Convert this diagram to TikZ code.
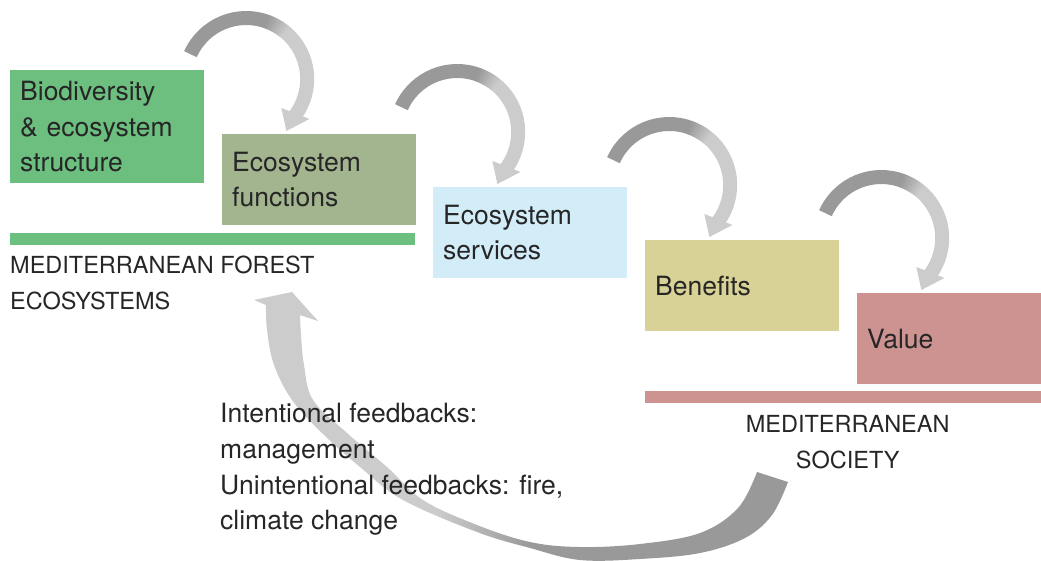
\documentclass[tikz,border=0pt]{standalone}
\usepackage{fontspec}
\setmainfont{TeX Gyre Heros}
\usetikzlibrary{positioning}
\usetikzlibrary{calc}

\definecolor{forestgreen}{HTML}{6DBF80}
\definecolor{functiongreen}{HTML}{A3B58F}
\definecolor{serviceblue}{HTML}{D2ECF8}
\definecolor{benefityellow}{HTML}{D8D296}
\definecolor{valuered}{HTML}{CD9391}
\definecolor{arrowdark}{HTML}{999999}
\definecolor{arrowlight}{HTML}{CCCCCC}
\pgfdeclarehorizontalshading{feedback}{100bp}{color(0bp)=(arrowlight); color(42bp)=(arrowlight); color(51bp)=(arrowdark); color(100bp)=(arrowdark)}

\begin{document}
\begin{tikzpicture}[x=1pt, y=-1pt]

\tikzstyle{stage}=[anchor=north west, align=left, text width=174pt, inner xsep=10pt,
inner ysep=0pt, minimum height=91pt, text=black!85, font={\fontsize{26.5}{35.5}\selectfont}]
\tikzstyle{bar}=[anchor=north west, minimum width=405pt, minimum height=12pt, inner sep=0pt]
\tikzstyle{caption}=[inner sep=0pt, text=black!85, font={\fontsize{23.5}{36}\selectfont}]
\tikzstyle{note}=[inner sep=0pt, text=black!85, font={\fontsize{26.5}{35.7}\selectfont}]
\tikzstyle{looparc}=[line width=14pt]

\useasboundingbox (0,0) rectangle (1041,560);

% feedback from society back to the forest
\shade[shading=feedback] plot[smooth, tension=0.6] coordinates {(788,482) (772,515) (745,538)
(700,553) (640,559) (580,560) (530,548) (477,532) (403,500) (360,467) (322,433) (292,400)
(274,365) (267,330) (266,305)}
-- (254,300) -- (292,292) -- (318,321) -- (300,315)
-- plot[smooth, tension=0.6] coordinates {(300,315) (301,335) (304,365) (313,400) (347,433)
(387,467) (423,500) (477,525) (530,542) (580,547) (640,544) (700,533) (738,508) (757,472)}
-- cycle;

% the cascade
\node[stage, fill=forestgreen, minimum height=113pt] (bio) at (10,70) {Biodiversity\\\& ecosystem\\structure};
\node[stage, fill=functiongreen] (func) at (222,134) {Ecosystem\\functions};
\node[stage, fill=serviceblue] (serv) at (433,187) {Ecosystem\\services};
\node[stage, fill=benefityellow] (bene) at (645,240) {Benefits};
\node[stage, fill=valuered] (valu) at (857,293) {Value};

\node[bar, fill=forestgreen] (forestbar) at (10,233) {};
\node[bar, fill=valuered] (societybar) at (645,391) {};

\node[caption, below=10pt of forestbar.south west, anchor=north west, align=left] (forestlbl)
{MEDITERRANEAN FOREST\\ECOSYSTEMS};
\node[caption, below=11.5pt of societybar, align=center] (societylbl) {MEDITERRANEAN\\SOCIETY};

\node[note, anchor=north west, align=left] (feedbacks) at (220,403)
{Intentional feedbacks:\\management\\Unintentional feedbacks: fire,\\climate change};

% curved arrows dropping onto each next stage
\foreach \t in {func,serv,bene,valu}{
  \coordinate (c) at ($(\t.north)+(-73,-55)$);
  \draw[looparc, arrowdark] ($(c)+(204:61)$) arc[start angle=204, end angle=291, radius=61];
  \foreach \k in {0,...,9}{
    \pgfmathsetmacro\ang{290+2*\k}
    \pgfmathsetmacro\angend{\ang+2.5}
    \pgfmathtruncatemacro\pct{10*\k+5}
    \draw[looparc, arrowlight!\pct!arrowdark] ($(c)+(\ang:61)$) arc[start angle=\ang, end angle=\angend, radius=61];
  }
  \draw[looparc, arrowlight] ($(c)+(310:61)$) arc[start angle=310, end angle=397, radius=61];
  \fill[arrowlight] ($(c)+(399.5:45.6)$) -- ($(c)+(412.3:65.7)$) -- ($(c)+(392.3:74.8)$) -- cycle;
}

\end{tikzpicture}
\end{document}
